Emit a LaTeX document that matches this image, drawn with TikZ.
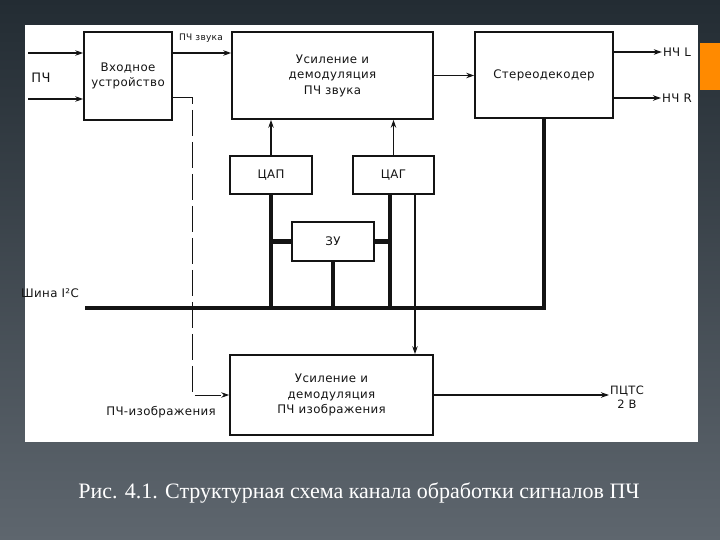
\documentclass[tikz,border=0pt]{standalone}
\usepackage{fontspec}
\setmainfont{Liberation Serif}
\newfontfamily\blokfont{DejaVu Sans}[LetterSpace=3]
\usepackage{xcolor}
\definecolor{fonverh}{HTML}{232C33}
\definecolor{fonniz}{HTML}{5E666E}
\definecolor{slajdorange}{HTML}{FF8A00}
\definecolor{skan}{HTML}{141414}
\usetikzlibrary{arrows.meta,positioning}

\begin{document}
\begin{tikzpicture}[x=1pt, y=-1pt, >={Stealth[length=8pt,width=5.5pt]}, font=\blokfont\fontsize{11.8}{15.5}\selectfont,
		blok/.style={draw=skan, line width=1.7pt, fill=white, text=skan, align=center, inner sep=0pt},
		sig/.style={->, draw=skan, line width=1.1pt},
		shina/.style={draw=skan, line width=4.2pt},
		metka/.style={text=skan, inner sep=1pt, align=center}]
			\path[use as bounding box, top color=fonverh, bottom color=fonniz] (0,0) rectangle (720,540);
			\fill[white] (25,25) rectangle (698,442);
			\fill[slajdorange] (700,43) rectangle (720,90);

			% bus and its taps
			\coordinate (shinaL) at (85,308);
			\coordinate (cagniz) at (390,0);
			\coordinate (otvod) at (415,0);
			\coordinate (izob) at (192,0);

			\node[blok, minimum width=88pt, minimum height=88pt] (vhod) at (128,76) {Входное\\устройство};
			\node[blok, minimum width=201pt, minimum height=87pt] (usz) at (332.5,75.5) {Усиление и\\демодуляция\\ПЧ звука};
			\node[blok, minimum width=138pt, minimum height=86pt] (stereo) at (544,75) {Стереодекодер};
			\node[blok, minimum width=82pt, minimum height=38pt] (cap) at (271,175) {ЦАП};
			\node[blok, minimum width=81pt, minimum height=38pt] (cag) at (393.5,175) {ЦАГ};
			\node[blok, minimum width=82pt, minimum height=39pt] (zu) at (333,241.5) {ЗУ};
			\node[blok, minimum width=203pt, minimum height=80pt] (uiz) at (331.5,395) {Усиление и\\демодуляция\\ПЧ изображения};

			\node[metka, font=\blokfont\fontsize{13}{15}\selectfont] (pch) at (41,78) {ПЧ};
			\node[metka, font=\blokfont\fontsize{9}{10}\selectfont] (pchzv) at (201,38) {ПЧ звука};
			\node[metka] (shinatxt) at (50,293) {Шина I²C};
			\node[metka] (pchiz) at (161,412) {ПЧ-изображения};
			\node[metka] (nchl) at (677,52) {НЧ L};
			\node[metka] (nchr) at (677,98) {НЧ R};
			\node[metka, font=\blokfont\fontsize{11.5}{14}\selectfont] (pcts) at (627,397) {ПЦТС\\2 В};

			\coordinate (vh1) at (28,53);
			\coordinate (vh2) at (28,99);
			\draw[sig] (vh1) -- (vh1 -| vhod.west);
			\draw[sig] (vh2) -- (vh2 -| vhod.west);
			\draw[sig] (vhod.east |- vh1) -- (usz.west |- vh1);
			\draw[sig] (usz.east) -- (usz.east -| stereo.west);
			\foreach \vyh in {nchl,nchr} {
				\draw[sig] (stereo.east |- \vyh) -- (\vyh.west);
			}
			\draw[sig] (cap.north) -- (cap.north |- usz.south);
			\draw[sig] (cag.north) -- (cag.north |- usz.south);
			\draw[sig] (otvod |- cag.south) -- (otvod |- uiz.north);
			\draw[sig, line width=0.8pt, dash pattern=on 26pt off 6pt] ([yshift=-21pt]vhod.east) -| (izob |- uiz.west) -- (uiz.west);
			\draw[sig] (uiz.east) -- (uiz.east -| pcts.west);

			\draw[shina] (shinaL) -- (shinaL -| stereo.south) -- (stereo.south);
			\draw[shina] (cap.south) -- (cap.south |- shinaL);
			\draw[shina] (cagniz |- cag.south) -- (cagniz |- shinaL);
			\draw[shina] (zu.west) -- (zu.west -| cap.south);
			\draw[shina] (zu.east) -- (zu.east -| cagniz);
			\draw[shina] (zu.south) -- (zu.south |- shinaL);

			\node[text=white, font=\rmfamily\fontsize{22}{25}\selectfont, inner sep=0pt] (podpis) at (359,493) {Рис. 4.1. Структурная схема канала обработки сигналов ПЧ};
		\end{tikzpicture}
\end{document}
